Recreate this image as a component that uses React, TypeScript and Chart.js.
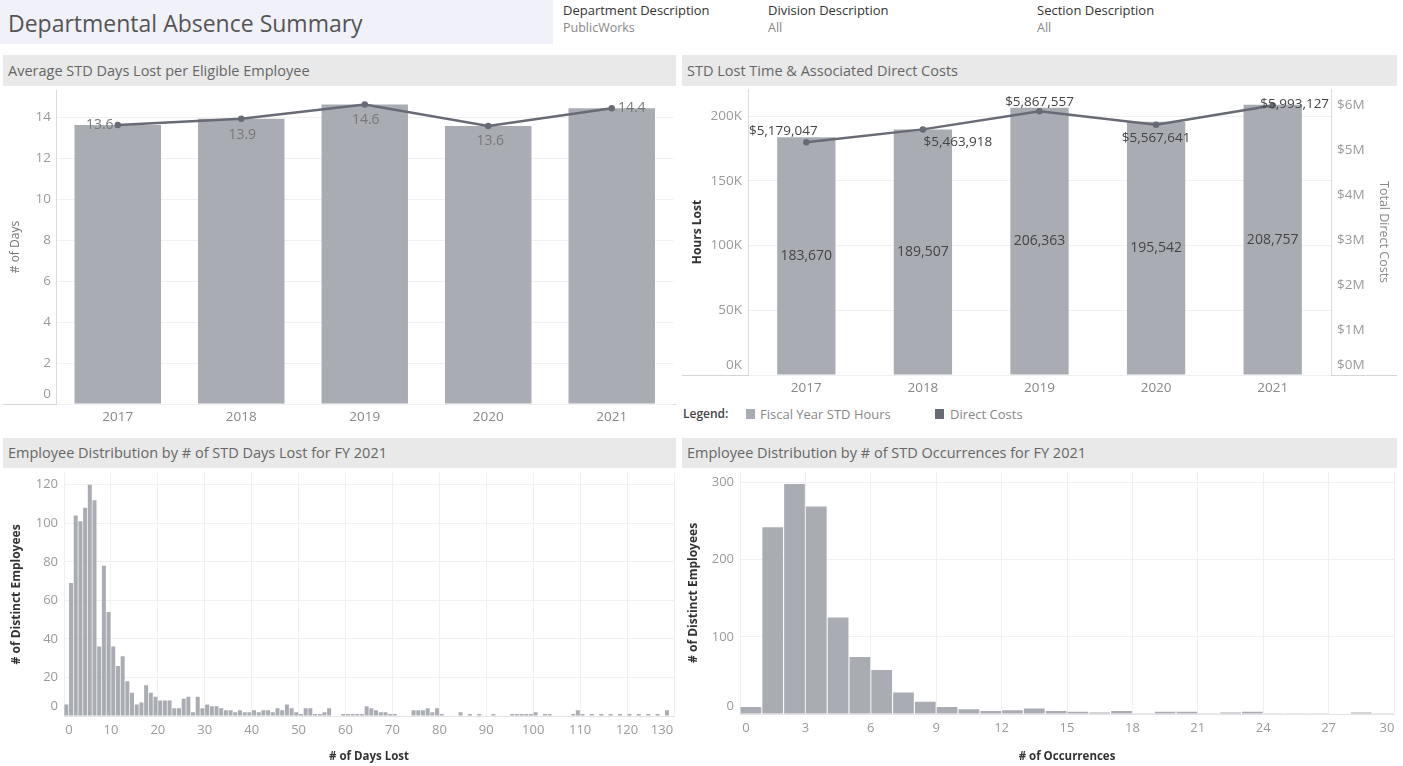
import React, { useEffect, useRef } from 'react';
import { Chart, registerables } from 'chart.js';

Chart.register(...registerables);

const FONT = '"Open Sans", "Noto Sans", sans-serif';
Chart.defaults.font.family = FONT;

// ---------------- data ----------------
const years = ['2017', '2018', '2019', '2020', '2021'];
const avgDaysLost = [13.62, 13.93, 14.63, 13.58, 14.44];
const hoursLost = [183670, 189507, 206363, 195542, 208757];
const directCosts = [5179047, 5463918, 5867557, 5567641, 5993127];

// employees per number of STD days lost (index = days lost, 0..130)
const daysLostCounts = [
  6, 69, 104, 101, 108, 120, 112, 36, 78, 54,
  36, 26, 31, 18, 12, 6, 7, 16, 12, 10,
  8, 8, 8, 4, 4, 9, 10, 2, 10, 4,
  6, 5, 5, 4, 3, 3, 2, 3, 2, 2,
  3, 2, 3, 3, 2, 4, 3, 6, 4, 2,
  1, 4, 4, 1, 1, 2, 4, 0, 0, 1,
  1, 1, 1, 1, 5, 4, 3, 2, 2, 1,
  1, 0, 0, 0, 3, 3, 3, 4, 2, 4,
  1, 0, 0, 0, 2, 0, 1, 0, 1, 0,
  0, 1, 0, 0, 0, 1, 1, 1, 1, 1,
  2, 0, 1, 1, 0, 0, 0, 0, 1, 3,
  1, 0, 1, 0, 1, 0, 1, 0, 1, 0,
  1, 0, 1, 0, 1, 0, 1, 0, 3, 0,
  0,
];

// employees per number of STD occurrences (index = occurrences, 0..29)
const occurrenceCounts = [
  9, 242, 298, 269, 125, 74, 57, 28, 16, 9,
  6, 4, 5, 7, 4, 3, 2, 4, 1, 3,
  3, 1, 2, 3, 1, 1, 1, 0, 2, 1,
];

const daysTickValues = [0, 2, 4, 6, 8, 10, 12, 14];
const hoursTickValues = [0, 50000, 100000, 150000, 200000];
const costTickValues = [0, 1e6, 2e6, 3e6, 4e6, 5e6, 6e6];

// ---------------- styles ----------------
const BAR = '#a9acb3';
const LINE = '#686b75';
const TICK = '#9a9a9a';
const GRID = '#f0f0f0';

// label offsets (layout only)
const avgLabelOffsets = [[-18, 0], [1, 16], [1, 16], [2, 15], [20, 0]];
const costLabelOffsets = [[-23, -11], [35, 13], [0, -9], [0, 13], [22, -1]];

const shiftLabels = {
  id: 'shiftLabels',
  afterDraw(chart: any, _a: any, opts: any) {
    const ctx = chart.ctx;
    (opts.items || []).forEach((it: any) => {
      const s = chart.scales[it.scale];
      const t = s.options.ticks;
      const size = t.font.size;
      ctx.save();
      ctx.font = `${size}px ${FONT}`;
      ctx.fillStyle = t.color;
      ctx.textBaseline = 'middle';
      const p = s.getPixelForValue(it.value);
      if (s.isHorizontal()) {
        ctx.textAlign = 'center';
        ctx.fillText(it.text, p + (it.dx || 0), s.top + t.padding + (size * 1.2) / 2);
      } else if (s.position === 'left') {
        ctx.textAlign = 'right';
        ctx.fillText(it.text, s.right - t.padding, p + (it.dy || 0));
      } else {
        ctx.textAlign = 'left';
        ctx.fillText(it.text, s.left + t.padding, p + (it.dy || 0));
      }
      ctx.restore();
    });
  },
};

const avgLabelsPlugin = {
  id: 'avgLabels',
  afterDatasetsDraw(chart: any) {
    const ctx = chart.ctx;
    const meta = chart.getDatasetMeta(0);
    ctx.save();
    ctx.font = `14px ${FONT}`;
    ctx.fillStyle = '#777';
    ctx.textAlign = 'center';
    ctx.textBaseline = 'middle';
    meta.data.forEach((el: any, i: number) => {
      const o = avgLabelOffsets[i];
      ctx.fillText(avgDaysLost[i].toFixed(1), el.x + o[0], el.y + o[1]);
    });
    ctx.restore();
  },
};

const costLabelsPlugin = {
  id: 'costLabels',
  afterDatasetsDraw(chart: any) {
    const ctx = chart.ctx;
    ctx.save();
    ctx.fillStyle = '#444';
    ctx.textAlign = 'center';
    ctx.textBaseline = 'middle';
    ctx.font = `14px ${FONT}`;
    const bars = chart.getDatasetMeta(1);
    bars.data.forEach((el: any, i: number) => {
      ctx.fillText(hoursLost[i].toLocaleString('en-US'), el.x, (el.y + el.base) / 2);
    });
    ctx.font = `13.5px ${FONT}`;
    const line = chart.getDatasetMeta(0);
    line.data.forEach((el: any, i: number) => {
      const o = costLabelOffsets[i];
      ctx.fillText('$' + directCosts[i].toLocaleString('en-US'), el.x + o[0], el.y + o[1]);
    });
    ctx.restore();
  },
};

const base = {
  responsive: false,
  animation: false,
  devicePixelRatio: 1,
};

const hideZero = (f: (v: number) => string) => (v: any) => (v === 0 ? '' : f(v));

function configAvg(): any {
  return {
    type: 'bar',
    data: {
      labels: years,
      datasets: [
        { type: 'line', data: avgDaysLost, borderColor: LINE, backgroundColor: LINE, borderWidth: 2.5, pointRadius: 2, pointBackgroundColor: LINE, order: 0 },
        { type: 'bar', data: avgDaysLost, backgroundColor: BAR, barPercentage: 0.7, categoryPercentage: 1, order: 1 },
      ],
    },
    options: {
      ...base,
      layout: { padding: { top: 4, right: 4, left: 0, bottom: 0 } },
      plugins: {
        legend: { display: false },
        tooltip: { enabled: false },
        shiftLabels: { items: [{ scale: 'y', value: 0, text: '0', dy: -10 }] },
      },
      scales: {
        x: {
          grid: { display: false, drawTicks: false },
          border: { display: false },
          ticks: { color: '#888', font: { size: 13.5 }, padding: 5 },
          afterFit: (s: any) => { s.height = 26; },
        },
        y: {
          min: 0, max: 15.33,
          afterBuildTicks: (s: any) => { s.ticks = daysTickValues.map((v) => ({ value: v })); },
          grid: { color: GRID, drawTicks: false },
          border: { display: true, color: '#dcdcdc' },
          ticks: { color: TICK, font: { size: 13.5 }, padding: 5, callback: hideZero((v) => String(v)) },
          title: { display: true, text: '# of Days', color: '#777', font: { size: 12 }, padding: { top: 8, bottom: 0 } },
          afterFit: (s: any) => { s.width = 56; },
        },
      },
    },
    plugins: [shiftLabels, avgLabelsPlugin],
  };
}

function configCost(): any {
  return {
    type: 'bar',
    data: {
      labels: years,
      datasets: [
        { type: 'line', data: directCosts, yAxisID: 'y1', borderColor: LINE, backgroundColor: LINE, borderWidth: 2.5, pointRadius: 2, pointBackgroundColor: LINE, order: 0 },
        { type: 'bar', data: hoursLost, yAxisID: 'y', backgroundColor: BAR, barPercentage: 0.5, categoryPercentage: 1, order: 1 },
      ],
    },
    options: {
      ...base,
      layout: { padding: { top: 2, right: 0, left: 0, bottom: 0 } },
      plugins: {
        legend: { display: false },
        tooltip: { enabled: false },
        shiftLabels: {
          items: [
            { scale: 'y', value: 0, text: '0K', dy: -10 },
            { scale: 'y1', value: 0, text: '$0M', dy: -10 },
          ],
        },
      },
      scales: {
        x: {
          grid: { display: false, drawTicks: false },
          border: { display: false },
          ticks: { color: '#888', font: { size: 13.5 }, padding: 5 },
          afterFit: (s: any) => { s.height = 27; },
        },
        y: {
          position: 'left',
          min: 0, max: 220800,
          afterBuildTicks: (s: any) => { s.ticks = hoursTickValues.map((v) => ({ value: v })); },
          grid: { color: GRID, drawTicks: false },
          border: { display: true, color: '#dcdcdc' },
          ticks: { color: TICK, font: { size: 13.5 }, padding: 6, callback: hideZero((v) => v / 1000 + 'K') },
          title: { display: true, text: 'Hours Lost', color: '#333', font: { size: 12, weight: 'bold' }, padding: { top: 10, bottom: 0 } },
          afterFit: (s: any) => { s.width = 68; },
        },
        y1: {
          position: 'right',
          min: 0, max: 6360000,
          afterBuildTicks: (s: any) => { s.ticks = costTickValues.map((v) => ({ value: v })); },
          grid: { display: false, drawTicks: false },
          border: { display: true, color: '#dcdcdc' },
          ticks: { color: TICK, font: { size: 13.5 }, padding: 6, callback: hideZero((v) => '$' + v / 1e6 + 'M') },
          title: { display: true, text: 'Total Direct Costs', color: '#888', font: { size: 12.5 }, padding: { top: 6, bottom: 0 } },
          afterFit: (s: any) => { s.width = 66; },
        },
      },
    },
    plugins: [shiftLabels, costLabelsPlugin],
  };
}

function configHist(
  counts: number[], xMax: number, xStep: number, yMax: number, yStep: number,
  barPct: number, xTitle: string, yWidth: number, rightPad: number, xHeight: number,
  shifts: any[], yTitlePad: number,
): any {
  return {
    type: 'bar',
    data: {
      datasets: [
        { data: counts.map((v, i) => ({ x: i + 0.5, y: v })), backgroundColor: BAR, barPercentage: barPct, categoryPercentage: 1 },
      ],
    },
    options: {
      ...base,
      layout: { padding: { top: 2, right: rightPad, left: 0, bottom: 0 } },
      plugins: {
        legend: { display: false },
        tooltip: { enabled: false },
        shiftLabels: { items: shifts },
      },
      scales: {
        x: {
          type: 'linear', min: 0, max: xMax, offset: false,
          grid: { color: GRID, drawTicks: false, offset: false },
          border: { display: true, color: '#e4e4e4' },
          ticks: {
            stepSize: xStep, color: TICK, font: { size: 13 }, padding: 6,
            callback: (v: any) => (v === 0 || v === xMax ? '' : String(v)),
          },
          title: { display: true, text: xTitle, color: '#333', font: { size: 11.5, weight: 'bold' }, padding: { top: 0, bottom: 2 } },
          afterFit: (s: any) => { s.height = xHeight; },
        },
        y: {
          min: 0, max: yMax,
          grid: { color: GRID, drawTicks: false },
          border: { display: false },
          ticks: { stepSize: yStep, includeBounds: false, color: TICK, font: { size: 13 }, padding: 6, callback: hideZero((v) => String(v)) },
          title: { display: true, text: '# of Distinct Employees', color: '#333', font: { size: 12, weight: 'bold' }, padding: { top: yTitlePad, bottom: 0 } },
          afterFit: (s: any) => { s.width = yWidth; },
        },
      },
    },
    plugins: [shiftLabels],
  };
}

function ChartCanvas({ left, top, width, height, make }: any) {
  const ref = useRef<HTMLCanvasElement>(null);
  useEffect(() => {
    const chart = new Chart(ref.current as HTMLCanvasElement, make());
    return () => chart.destroy();
  }, []);
  return (
    <canvas
      ref={ref}
      width={width}
      height={height}
      style={{ position: 'absolute', left, top, width, height }}
    />
  );
}

const band = (left: number, top: number, width: number, height: number, text: string) => (
  <div
    style={{
      position: 'absolute', left, top, width, height, background: '#e9e9e9',
      color: '#666', fontSize: 14.5, lineHeight: height + 'px', paddingLeft: 5,
      boxSizing: 'border-box', whiteSpace: 'nowrap',
    }}
  >
    {text}
  </div>
);

const filter = (left: number, label: string, value: string) => (
  <React.Fragment key={label}>
    <div style={{ position: 'absolute', left, top: 1, fontSize: 13, color: '#333', lineHeight: '18px', whiteSpace: 'nowrap' }}>{label}</div>
    <div style={{ position: 'absolute', left, top: 19, fontSize: 12.5, color: '#888', lineHeight: '18px', whiteSpace: 'nowrap' }}>{value}</div>
  </React.Fragment>
);

export default function App() {
  return (
    <div
      style={{
        position: 'absolute', left: 0, top: 0, width: 1403, height: 766,
        background: '#fff', overflow: 'hidden', fontFamily: FONT,
      }}
    >
      <div
        style={{
          position: 'absolute', left: 0, top: 0, width: 553, height: 44, background: '#f1f1f9',
          color: '#555', fontSize: 23, lineHeight: '47px', paddingLeft: 8, boxSizing: 'border-box',
          whiteSpace: 'nowrap',
        }}
      >
        Departmental Absence Summary
      </div>
      {filter(563, 'Department Description', 'PublicWorks')}
      {filter(768, 'Division Description', 'All')}
      {filter(1037, 'Section Description', 'All')}

      {band(3, 55, 673, 31, 'Average STD Days Lost per Eligible Employee')}
      {band(682, 55, 715, 31, 'STD Lost Time & Associated Direct Costs')}
      {band(3, 438, 673, 30, 'Employee Distribution by # of STD Days Lost for FY 2021')}
      {band(682, 438, 715, 30, 'Employee Distribution by # of STD Occurrences for FY 2021')}

      <div style={{ position: 'absolute', left: 3, top: 404, width: 673, height: 1, background: '#d6d6d6' }} />
      <div style={{ position: 'absolute', left: 682, top: 375, width: 715, height: 1, background: '#d6d6d6' }} />

      <ChartCanvas left={0} top={77} width={680} height={353} make={configAvg} />
      <ChartCanvas left={680} top={75} width={717} height={327} make={configCost} />
      <ChartCanvas
        left={0} top={459} width={680} height={307}
        make={() => configHist(daysLostCounts, 130, 10, 126.2, 20, 0.85, '# of Days Lost', 64, 4, 50,
          [
            { scale: 'y', value: 0, text: '0', dy: -10 },
            { scale: 'x', value: 0, text: '0', dx: 5 },
            { scale: 'x', value: 130, text: '130', dx: -12 },
          ], 9)}
      />
      <ChartCanvas
        left={680} top={458} width={720} height={308}
        make={() => configHist(occurrenceCounts, 30, 3, 313.9, 100, 0.95, '# of Occurrences', 60, 6, 52,
          [
            { scale: 'y', value: 0, text: '0', dy: -8 },
            { scale: 'x', value: 0, text: '0', dx: 6 },
            { scale: 'x', value: 30, text: '30', dx: -7 },
          ], 6)}
      />

      {/* legend */}
      <div style={{ position: 'absolute', left: 683, top: 406, fontSize: 12, color: '#444', fontWeight: 600, lineHeight: '16px' }}>Legend:</div>
      <div style={{ position: 'absolute', left: 746, top: 409, width: 9, height: 10, background: BAR }} />
      <div style={{ position: 'absolute', left: 760, top: 406, fontSize: 13, color: '#888', lineHeight: '16px', whiteSpace: 'nowrap' }}>Fiscal Year STD Hours</div>
      <div style={{ position: 'absolute', left: 935, top: 409, width: 9, height: 10, background: LINE }} />
      <div style={{ position: 'absolute', left: 950, top: 406, fontSize: 13, color: '#888', lineHeight: '16px', whiteSpace: 'nowrap' }}>Direct Costs</div>
    </div>
  );
}
